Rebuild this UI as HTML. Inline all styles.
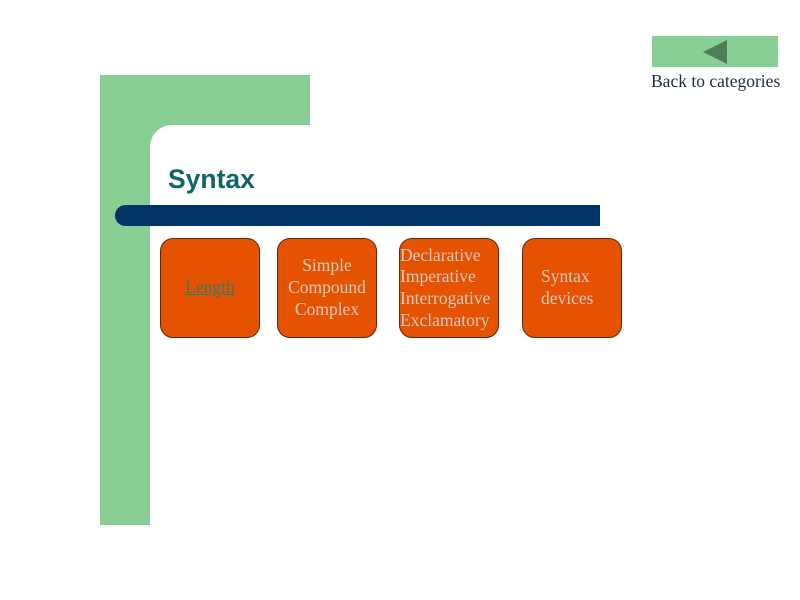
<!DOCTYPE html>
<html><head><style>
body{margin:0;width:800px;height:600px;background:#fff;position:relative;overflow:hidden;font-family:"Liberation Serif",serif}
div{position:absolute}
.b{top:238px;width:98px;height:98px;background:#e55200;border:1px solid #5a2a10;border-radius:13px;display:flex;align-items:center;justify-content:center;text-align:center;color:#d9c9c2;font-size:17.5px;line-height:21.7px;white-space:nowrap}
</style></head><body>
<div style="left:100px;top:75px;width:210px;height:50px;background:#88cf96"></div>
<div style="left:100px;top:75px;width:50px;height:450px;background:#88cf96"></div>
<div style="left:150px;top:125px;width:25px;height:25px;background:#88cf96"></div>
<div style="left:150px;top:125px;width:30px;height:30px;background:#fff;border-top-left-radius:22px"></div>
<div style="left:168px;top:164px;font:bold 26.5px 'Liberation Sans',sans-serif;color:#0f6565">Syntax</div>
<div style="left:115px;top:205px;width:485px;height:21px;background:#003366;border-radius:11px 0 0 11px"></div>
<div class="b" style="left:160px"><span style="color:#2e7d6a;text-decoration:underline">Length</span></div>
<div class="b" style="left:277px">Simple<br>Compound<br>Complex</div>
<div class="b" style="left:399px;justify-content:flex-start;text-align:left">Declarative<br>Imperative<br>Interrogative<br>Exclamatory</div>
<div class="b" style="left:522px;justify-content:flex-start;text-align:left;padding-left:18px;width:80px">Syntax<br>devices</div>
<div style="left:652px;top:36px;width:126px;height:31px;background:#88cf96"></div>
<div style="left:703px;top:40px;width:0;height:0;border-top:12px solid transparent;border-bottom:12px solid transparent;border-right:24px solid #4e7e5a"></div>
<div style="left:651px;top:71px;font-size:17.5px;color:#1a2a44;white-space:nowrap">Back to categories</div>
</body></html>
